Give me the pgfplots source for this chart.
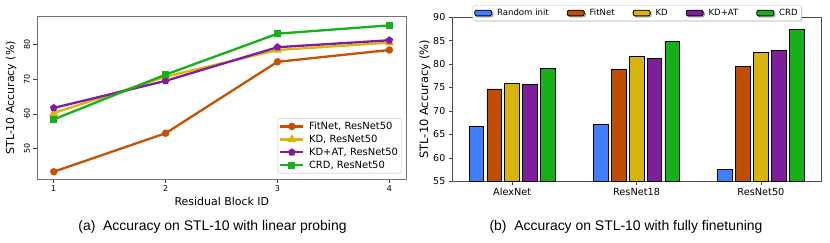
\documentclass[border=0pt]{standalone}
\usepackage{pgfplots}
\pgfplotsset{compat=1.18}
\usepackage{fontspec}
\setmainfont{DejaVu Sans}
\newfontfamily\capfont{Liberation Sans}
\usetikzlibrary{shadows}
\definecolor{cblue}{HTML}{3F7FFF}
\definecolor{corange}{HTML}{C04E01}
\definecolor{cyellow}{HTML}{D6B40C}
\definecolor{cpurple}{HTML}{7E1E9C}
\definecolor{cgreen}{HTML}{15B01A}
\definecolor{lorange}{HTML}{C65102}
\definecolor{lyellow}{HTML}{DBB40C}
\begin{document}
\begin{tikzpicture}[x=1bp,y=1bp]
\useasboundingbox (0,0) rectangle (830,242);
% ---------------- left panel
\begin{axis}[
  at={(37bp,63bp)}, anchor=south west, scale only axis,
  width=369.7bp, height=162.3bp,
  xmin=0.85, xmax=4.155, ymin=41.2, ymax=88.0,
  xtick={1,2,3,4}, ytick={50,60,70,80},
  tick align=outside, tick pos=left, major tick length=3.5bp,
  axis line style={black!55, line width=0.8bp},
  every tick/.style={black!75, line width=0.6bp},
  /pgf/number format/assume math mode=true,
  tick label style={font=\fontsize{8}{9}\selectfont},
  yticklabel style={rotate=90, anchor=south},
  xlabel={Residual Block ID}, ylabel={STL-10 Accuracy (\%)},
  label style={font=\fontsize{11}{13}\selectfont},
  xlabel style={at={(axis description cs:0.5,-0.1355)}, anchor=center},
  ylabel style={at={(axis description cs:-0.0703,0.5)}, anchor=center},
  legend cell align=left,
  legend style={at={(0.9865,0.035)}, anchor=south east, draw=black!25,
    rounded corners=2bp, inner sep=1.5bp, nodes={inner sep=2bp},
    font=\fontsize{10}{11}\selectfont,
    /tikz/every odd column/.append style={column sep=2.7bp}},
  legend image code/.code={\draw[mark repeat=2,mark phase=2,#1] plot coordinates {(0bp,0bp) (11.35bp,0bp) (22.7bp,0bp)};},
]
\addplot[color=lorange, line width=2.3bp, mark=*, mark size=2.5bp] coordinates {(1,43.3) (2,54.4) (3,75.0) (4,78.4)};
\addlegendentry{FitNet, ResNet50}
\addplot[color=lyellow, line width=2.3bp, mark=triangle*, mark size=3bp] coordinates {(1,60.2) (2,70.7) (3,78.4) (4,80.5)};
\addlegendentry{KD, ResNet50}
\addplot[color=cpurple, line width=2.3bp, mark=pentagon*, mark size=2.6bp] coordinates {(1,61.7) (2,69.5) (3,79.2) (4,81.2)};
\addlegendentry{KD+AT, ResNet50}
\addplot[color=cgreen, line width=2.3bp, mark=square*, mark size=2.4bp] coordinates {(1,58.4) (2,71.3) (3,83.1) (4,85.5)};
\addlegendentry{CRD, ResNet50}
\end{axis}
% ---------------- right panel
\begin{axis}[
  at={(452.3bp,60.7bp)}, anchor=south west, scale only axis,
  width=369.4bp, height=164bp,
  xmin=-0.482, xmax=2.489, ymin=55, ymax=90,
  xtick={0,1,2}, xticklabels={AlexNet,ResNet18,ResNet50},
  ytick={55,60,65,70,75,80,85,90},
  tick align=outside, tick pos=left, major tick length=3.5bp,
  axis line style={black!70, line width=0.8bp},
  every tick/.style={black!75, line width=0.6bp},
  /pgf/number format/assume math mode=true,
  xticklabel style={font=\fontsize{9.8}{11}\selectfont},
  yticklabel style={font=\fontsize{9.5}{11}\selectfont},
  ylabel={STL-10 Accuracy (\%)},
  label style={font=\fontsize{11.5}{13}\selectfont},
  ylabel style={at={(axis description cs:-0.074,0.5)}, anchor=center},
  legend columns=5,
  legend style={at={(0.5,1.073)}, anchor=north, draw=black!25, fill=white,
    rounded corners=2bp, inner sep=1.5bp, nodes={inner sep=2bp},
    font=\fontsize{8.6}{9.5}\selectfont,
    drop shadow={shadow xshift=1.2bp, shadow yshift=-1.2bp, opacity=0.35},
    /tikz/every odd column/.append style={column sep=3bp},
    /tikz/every even column/.append style={column sep=16bp}},
]
\addplot[ybar, bar width=0.119, bar shift=-0.288, fill=cblue, draw=black, line width=0.8bp, area legend] coordinates {(0,66.8) (1,67.2) (2,57.5)};
\addlegendentry{Random init}
\addplot[ybar, bar width=0.119, bar shift=-0.144, fill=corange, draw=black, line width=0.8bp, area legend] coordinates {(0,74.7) (1,78.8) (2,79.6)};
\addlegendentry{FitNet}
\addplot[ybar, bar width=0.119, bar shift=0, fill=cyellow, draw=black, line width=0.8bp, area legend] coordinates {(0,75.9) (1,81.6) (2,82.5)};
\addlegendentry{KD}
\addplot[ybar, bar width=0.119, bar shift=0.144, fill=cpurple, draw=black, line width=0.8bp, area legend] coordinates {(0,75.6) (1,81.3) (2,82.95)};
\addlegendentry{KD+AT}
\addplot[ybar, bar width=0.119, bar shift=0.288, fill=cgreen, draw=black, line width=0.8bp, area legend] coordinates {(0,79.0) (1,84.9) (2,87.4)};
\addlegendentry{CRD}
\end{axis}
\node[font=\capfont\fontsize{14}{16}\selectfont] at (212.5,15.5) {(a)\ \ Accuracy on STL-10 with linear probing};
\node[font=\capfont\fontsize{14}{16}\selectfont] at (626,15.5) {(b)\ \ Accuracy on STL-10 with fully finetuning};
\end{tikzpicture}
\end{document}
